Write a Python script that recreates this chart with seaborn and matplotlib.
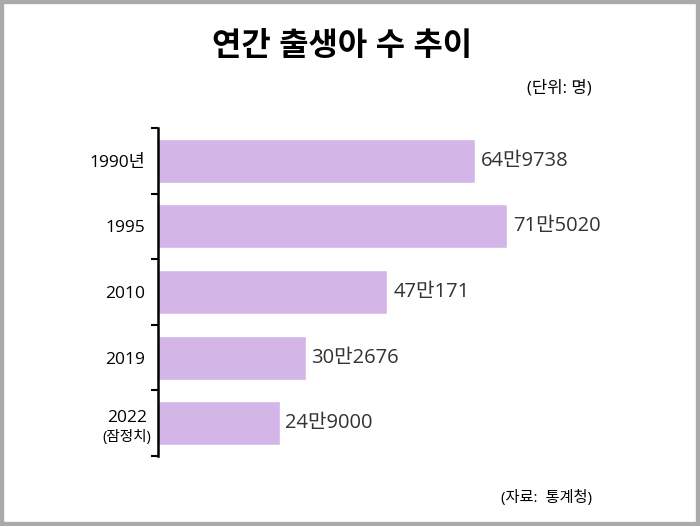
import matplotlib
matplotlib.use("Agg")
import matplotlib.pyplot as plt
import matplotlib.transforms as mtransforms
from matplotlib.patches import Rectangle
from matplotlib.ticker import FixedLocator
import seaborn as sns
import pandas as pd

years = ["1990년", "1995", "2010", "2019", "2022"]
births = [649738, 715020, 470171, 302676, 249000]
title = "연간 출생아 수 추이"
unit_note = "(단위: 명)"
source_note = "(자료:  통계청)"
provisional_note = "(잠정치)"

sns.set_theme(style="white")
plt.rcParams["font.family"] = ["Open Sans", "Noto Sans CJK KR", "DejaVu Sans"]

df = pd.DataFrame({"year": years, "births": births})

fig = plt.figure(figsize=(7, 5.26), dpi=100)
ax = fig.add_axes([158 / 700, 1 - 456 / 526, 488 / 700, 328 / 526])

sns.barplot(data=df, x="births", y="year", orient="h", color="#d3b5e8",
            saturation=1, width=0.67, ax=ax)

ax.set_xlim(0, 1000000)
ax.set_ylim(4.5, -0.5)
ax.set_xlabel("")
ax.set_ylabel("")
ax.set_xticks([])

for s in ["top", "right", "bottom"]:
    ax.spines[s].set_visible(False)
ax.spines["left"].set_linewidth(1.8)
ax.spines["left"].set_color("black")

# tick marks sit between bars, labels at bar centres
ax.yaxis.set_minor_locator(FixedLocator([i - 0.5 for i in range(len(years) + 1)]))
ax.tick_params(axis="y", which="minor", length=5, width=1.5, color="black", left=True)
ax.tick_params(axis="y", which="major", length=0, pad=9, labelsize=12.5, labelcolor="black")
labels = years[:-1] + [""]
ax.set_yticks(range(len(years)))
ax.set_yticklabels(labels)

# 2022 label with smaller note underneath
off = mtransforms.ScaledTranslation(-31 / 100, 0, fig.dpi_scale_trans)
tr = ax.get_yaxis_transform() + off
ax.text(0, 4 - 0.08, "2022", transform=tr, ha="center", va="center", fontsize=12.5, color="black")
ax.text(0, 4 + 0.22, provisional_note, transform=tr, ha="center", va="center", fontsize=10.5, color="black")

for i, v in enumerate(births):
    ax.text(v + 12000, i, f"{v // 10000}만{v % 10000}", va="center", ha="left",
            fontsize=14.5, color="#333333")

fig.text(342 / 700, 1 - 47 / 526, title, ha="center", va="center", fontsize=23, fontweight="bold", color="black")
fig.text(592 / 700, 1 - 88 / 526, unit_note, ha="right", va="center", fontsize=12, color="black")
fig.text(592 / 700, 1 - 498 / 526, source_note, ha="right", va="center", fontsize=11, color="black")

fig.patches.append(Rectangle((0, 0), 1, 1, transform=fig.transFigure, fill=False,
                             edgecolor="#aaaaaa", linewidth=6))

fig.savefig("out.png", dpi=100)
